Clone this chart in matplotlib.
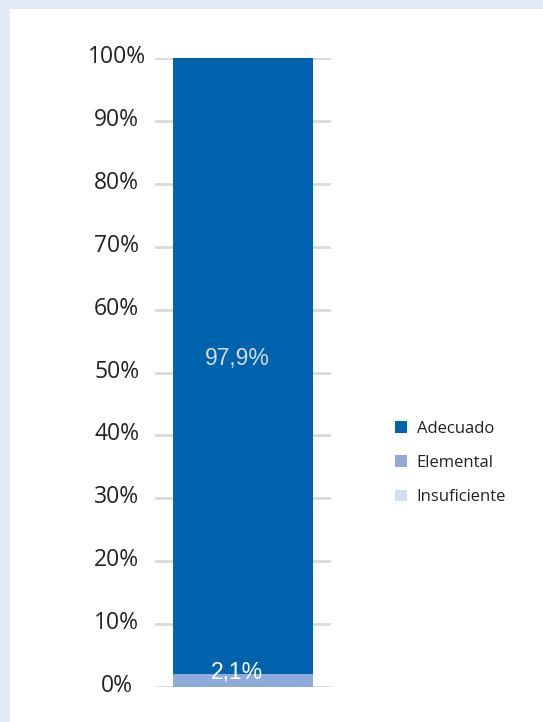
import numpy as np
import matplotlib.pyplot as plt
from matplotlib.patches import Rectangle
from matplotlib.transforms import ScaledTranslation

# Data
categories = ['Insuficiente', 'Elemental', 'Adecuado']
values = [0.0, 2.1, 97.9]
colors = ['#d3ddf0', '#8eabd9', '#0063ae']
label_colors = [None, 'white', '#d5dbe3']
yticks = np.arange(0, 101, 10)

fig = plt.figure(figsize=(5.43, 7.22), dpi=100)
fig.patch.set_facecolor('#e0e9f4')
fig.patches.append(Rectangle((10 / 543, 0), 1, (722 - 9) / 722, transform=fig.transFigure,
                             facecolor='white', edgecolor='none', zorder=-5))

ax = fig.add_axes([155 / 543, 35 / 722, 176 / 543, 629 / 722])
ax.set_facecolor('none')

bottom = 0
handles = []
for cat, val, col, lc in zip(categories, values, colors, label_colors):
    b = ax.bar(0, val, width=0.8, bottom=bottom, color=col, zorder=3, label=cat)
    handles.append(b)
    if val > 0:
        if val < 5:
            ypos = bottom + val + 0.2
        else:
            ypos = bottom + val / 2 + 1.2
        ax.text(-0.033, ypos, f'{val:.1f}%'.replace('.', ','), ha='center', va='center',
                color=lc, fontsize=16.5, family='Liberation Sans', zorder=4)
    bottom += val

ax.set_xlim(-0.5, 0.5)
ax.set_ylim(0, 100)
ax.set_yticks(yticks)
ax.set_yticklabels([f'{t}%' for t in yticks], fontsize=16.5, family='Open Sans',
                   color='#222222', ha='center')
ax.set_xticks([])
ax.tick_params(axis='y', length=0, pad=27.5)
shift = ScaledTranslation(0, 4 / 100, fig.dpi_scale_trans)
for lab in ax.get_yticklabels():
    lab.set_transform(lab.get_transform() + shift)
ax.yaxis.grid(True, color='#d9d9d9', linewidth=2, zorder=1)
for s in ax.spines.values():
    s.set_visible(False)

leg = fig.legend(handles[::-1], categories[::-1], loc='center left',
                 bbox_to_anchor=(380 / 543, (722 - 463) / 722), frameon=False,
                 prop={'family': 'Open Sans', 'size': 12}, handlelength=0.7, handleheight=0.7,
                 handletextpad=0.6, labelspacing=1.1)
for t in leg.get_texts():
    t.set_color('#222222')

plt.savefig('out.png', dpi=100)
